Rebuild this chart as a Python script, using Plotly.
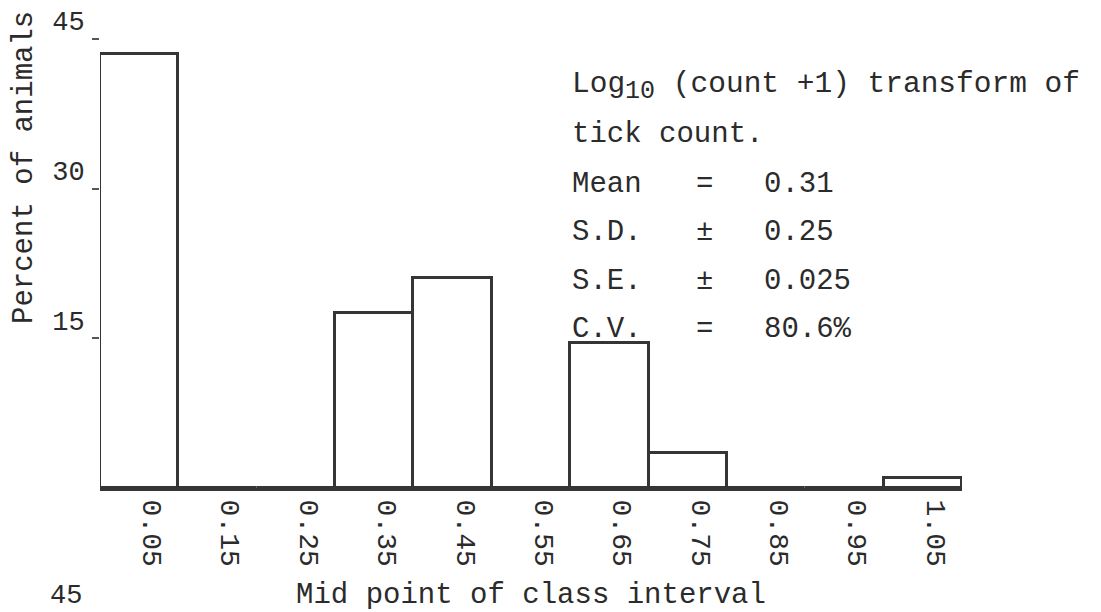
import plotly.graph_objects as go

# ---- data ----
midpoints = [0.05, 0.15, 0.25, 0.35, 0.45, 0.55, 0.65, 0.75, 0.85, 0.95, 1.05]
tick_labels = ["0.05", "0.15", "0.25", "0.35", "0.45", "0.55", "0.65", "0.75", "0.85", "0.95", "1.05"]
percent = [43.5, 0, 0, 17.5, 21.0, 0, 14.5, 3.5, 0, 0, 1.0]
y_ticks = [15, 30, 45]
y_tick_labels = ["15", "30", "45"]
stats_names = ["Mean", "S.D.", "S.E.", "C.V."]
stats_ops = ["=", "±", "±", "="]
stats_values = ["0.31", "0.25", "0.025", "80.6%"]

FONT = "Liberation Mono, Courier New, monospace"
INK = "#2b2b2b"
LINE = "#353535"

# page is shown with the browser's default 8px body margin
OFF = 8
PAGE_W, PAGE_H = 1101, 612
# plot area in page pixels
X0, X1, Y0, Y1 = 100, 962, 39, 488
W, H = PAGE_W - OFF, PAGE_H - OFF
L, T = X0 - OFF, Y0 - OFF
R, B = W - (X1 - OFF), H - (Y1 - OFF)
PW, PH = X1 - X0, Y1 - Y0


def px_x(px):
    return (px - X0) / PW


def px_y(py):
    return (Y1 - py) / PH


fig = go.Figure()
fig.add_trace(go.Bar(
    x=midpoints, y=percent,
    marker=dict(color="white", line=dict(color=LINE, width=3)),
    cliponaxis=False,
    showlegend=False,
    hoverinfo="x+y",
))

annotations = []
# stats block
annotations.append(dict(
    text='Log<sub><span style="font-size:25px">10</span></sub> (count +1) transform of',
    x=px_x(570), y=px_y(86), xref="paper", yref="paper",
    xanchor="left", yanchor="middle", showarrow=False,
    font=dict(family=FONT, size=29.5, color=INK)))
annotations.append(dict(
    text="tick count.",
    x=px_x(570), y=px_y(134), xref="paper", yref="paper",
    xanchor="left", yanchor="middle", showarrow=False,
    font=dict(family=FONT, size=29, color=INK)))
for i, (n, o, v) in enumerate(zip(stats_names, stats_ops, stats_values)):
    yy = 184 + i * 48.5
    for txt, xp, anc in ((n, 570, "left"), (o, 704, "center"), (v, 762, "left")):
        annotations.append(dict(
            text=txt, x=px_x(xp), y=px_y(yy), xref="paper", yref="paper",
            xanchor=anc, yanchor="middle", showarrow=False,
            font=dict(family=FONT, size=29, color=INK)))

# y-axis title
annotations.append(dict(
    text="Percent of animals", x=px_x(24), y=px_y(168),
    xref="paper", yref="paper", textangle=-90, showarrow=False,
    xanchor="center", yanchor="middle",
    font=dict(family=FONT, size=29, color=INK)))

# label of the next figure on the scanned page
annotations.append(dict(
    text="45", x=px_x(66), y=px_y(613), xref="paper", yref="paper",
    xanchor="center", yanchor="bottom", showarrow=False,
    font=dict(family=FONT, size=27, color=INK)))

fig.update_layout(
    width=W, height=H,
    margin=dict(l=L, r=R, t=T, b=B, autoexpand=False),
    paper_bgcolor="white", plot_bgcolor="white",
    bargap=0,
    font=dict(family=FONT, color=INK),
    annotations=annotations,
    xaxis=dict(
        range=[0, 1.1], showgrid=False, zeroline=False,
        showline=True, linecolor=LINE, linewidth=3,
        tickmode="array", tickvals=midpoints, ticktext=tick_labels,
        tickangle=90, ticks="", ticklabelstandoff=3, ticklabelshift=13,
        tickfont=dict(family=FONT, size=28, color=INK),
        title=dict(text="Mid point of class interval", standoff=17,
                   font=dict(family=FONT, size=29, color=INK)),
        automargin=False, fixedrange=True,
    ),
    yaxis=dict(
        range=[0, 45], showgrid=False, zeroline=False, showline=False,
        tickmode="array", tickvals=y_ticks, ticktext=y_tick_labels,
        ticks="outside", ticklen=7, tickwidth=1.5, tickcolor="#555",
        ticklabelstandoff=2, ticklabelshift=-18,
        tickfont=dict(family=FONT, size=27, color=INK),
        automargin=False, fixedrange=True,
    ),
)

fig.write_html("out.html")
